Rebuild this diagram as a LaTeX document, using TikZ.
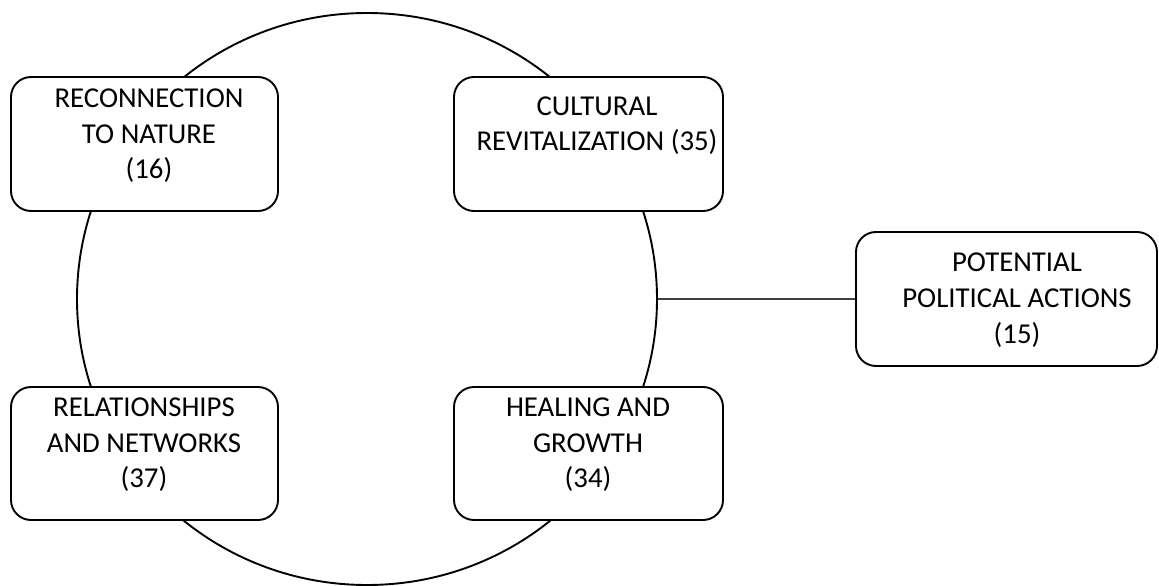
\documentclass[tikz,border=0pt]{standalone}
\usepackage{fontspec}
\setmainfont{Carlito}
\usetikzlibrary{shapes.geometric}
\begin{document}
\begin{tikzpicture}[x=1pt,y=-1pt,
  box/.style={draw=black, line width=1.9pt, rounded corners=20pt, fill=white, inner sep=0pt},
  lbl/.style={align=center, inner sep=0pt, text=black, font=\fontsize{28.8}{35.7}\selectfont},
  link/.style={draw=black!75, line width=1.3pt}]
\useasboundingbox (0,0) rectangle (1159,586);
% ring
\node[draw=black, line width=1.9pt, ellipse, minimum width=580pt, minimum height=572pt, inner sep=0pt] (ring) at (367,299) {};
% boxes
\node[box, minimum width=267pt, minimum height=134pt] (b1) at (144.5,144) {};
\node[box, minimum width=269pt, minimum height=134pt] (b2) at (588.5,144) {};
\node[box, minimum width=301pt, minimum height=134pt] (b3) at (1006.5,299) {};
\node[box, minimum width=267pt, minimum height=133pt] (b4) at (144.5,453.5) {};
\node[box, minimum width=269pt, minimum height=133pt] (b5) at (588.5,453.5) {};
% texts
\node[lbl] (t1) at (149,135.75) {RECONNECTION\\TO NATURE\\(16)};
\node[lbl] (t2) at (597,125.75) {CULTURAL\\REVITALIZATION (35)};
\node[lbl] (t3) at (1017,300.25) {POTENTIAL\\POLITICAL ACTIONS\\(15)};
\node[lbl] (t4) at (144,444.75) {RELATIONSHIPS\\AND NETWORKS\\(37)};
\node[lbl] (t5) at (588,444.75) {HEALING AND\\GROWTH\\(34)};
% connector
\draw[link] (ring.east) -- (b3.west);
\end{tikzpicture}
\end{document}
